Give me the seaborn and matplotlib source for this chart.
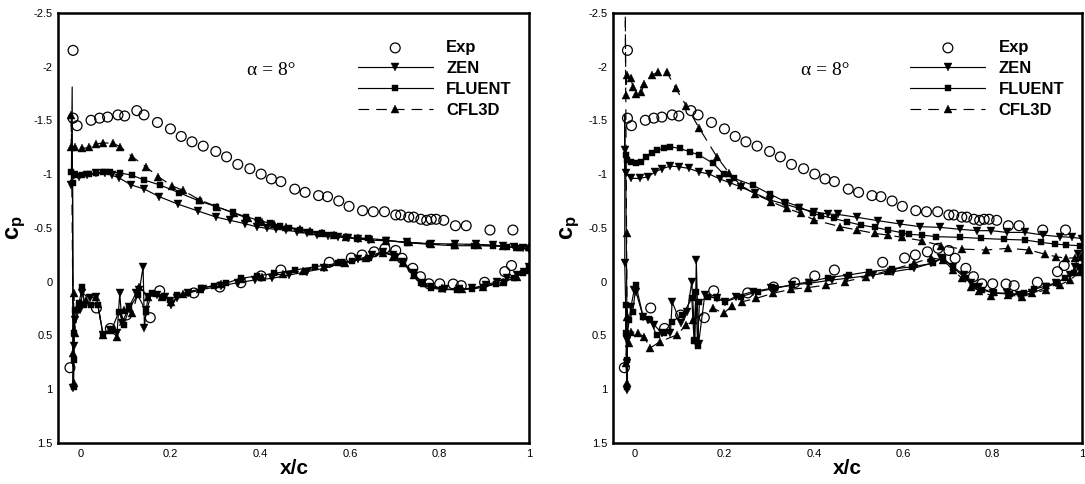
import matplotlib
matplotlib.use("Agg")
import matplotlib.pyplot as plt
import seaborn as sns
from matplotlib.ticker import MultipleLocator, FuncFormatter

# ---------------- data ----------------
# Experiment (same on both panels)
exp_x = [-0.017, -0.017, -0.008, 0.023, 0.042, 0.060, 0.083, 0.098, 0.125, 0.141, 0.171, 0.200, 0.224, 0.248,
         0.273, 0.301, 0.325, 0.350, 0.377, 0.402, 0.425, 0.446, 0.477, 0.500, 0.530, 0.550, 0.575, 0.598,
         0.628, 0.652, 0.677, 0.702, 0.713, 0.731, 0.742, 0.758, 0.771, 0.781, 0.792, 0.809, 0.835, 0.859,
         0.912, 0.963,
         -0.024, 0.035, 0.066, 0.102, 0.155, 0.176, 0.252, 0.310, 0.357, 0.402, 0.446, 0.554, 0.603, 0.627,
         0.654, 0.678, 0.702, 0.716, 0.740, 0.757, 0.776, 0.800, 0.830, 0.848, 0.900, 0.945, 0.960]
exp_cp = [-2.15, -1.52, -1.45, -1.50, -1.52, -1.53, -1.55, -1.54, -1.59, -1.55, -1.48, -1.42, -1.35, -1.30,
          -1.26, -1.21, -1.16, -1.09, -1.05, -1.00, -0.955, -0.93, -0.86, -0.83, -0.80, -0.79, -0.75, -0.70,
          -0.66, -0.65, -0.65, -0.62, -0.62, -0.60, -0.60, -0.58, -0.57, -0.58, -0.58, -0.57, -0.52, -0.52,
          -0.48, -0.48,
          0.80, 0.245, 0.435, 0.31, 0.335, 0.085, 0.105, 0.05, 0.01, -0.053, -0.108, -0.18, -0.22, -0.248,
          -0.277, -0.31, -0.29, -0.217, -0.124, -0.046, 0.02, 0.02, 0.022, 0.037, 0.006, -0.093, -0.15]

# Left panel: ZEN (lower surface TE->LE, then upper LE->TE)
zen_l_x = [1.0, 0.988, 0.973, 0.950, 0.927, 0.904, 0.873, 0.842, 0.812, 0.781, 0.762, 0.742, 0.719, 0.696,
           0.673, 0.650, 0.619, 0.581, 0.542, 0.504, 0.465, 0.427, 0.388, 0.350, 0.312, 0.273, 0.238, 0.215,
           0.202, 0.188, 0.169, 0.150, 0.146, 0.142, 0.139, 0.131, 0.123, 0.108, 0.092, 0.087, 0.081, 0.065,
           0.050, 0.035, 0.021, 0.004, -0.002, -0.013, -0.015, -0.017,
           -0.019,
           -0.021, -0.015, -0.004, 0.015, 0.035, 0.054, 0.069, 0.085, 0.112, 0.142, 0.175, 0.217, 0.262,
           0.302, 0.333, 0.365, 0.392, 0.415, 0.435, 0.458, 0.481, 0.504, 0.527, 0.550, 0.573, 0.596, 0.619,
           0.642, 0.681, 0.727, 0.781, 0.835, 0.881, 0.919, 0.942, 0.965, 0.985, 1.0]
zen_l_cp = [-0.14, -0.09, -0.06, -0.03, 0.0, 0.03, 0.06, 0.07, 0.07, 0.05, 0.015, -0.077, -0.186, -0.248,
            -0.279, -0.248, -0.21, -0.17, -0.124, -0.093, -0.062, -0.031, -0.015, 0.009, 0.04, 0.071, 0.108,
            0.149, 0.217, 0.139, 0.124, 0.139, 0.263, 0.43, -0.14, 0.077, 0.108, 0.232, 0.387, 0.108, 0.48,
            0.449, 0.495, 0.139, 0.155, 0.108, 0.263, 0.356, 0.60, 0.99,
            -1.81,
            -0.90, -0.99, -0.975, -0.99, -1.006, -1.01, -0.99, -0.966, -0.90, -0.86, -0.79, -0.72, -0.656,
            -0.60, -0.57, -0.54, -0.51, -0.495, -0.486, -0.48, -0.464, -0.449, -0.433, -0.424, -0.415, -0.406,
            -0.396, -0.387, -0.38, -0.365, -0.353, -0.35, -0.347, -0.34, -0.33, -0.32, -0.31, -0.30]

# Left panel: FLUENT
flu_l_x = [1.0, 0.985, 0.965, 0.944, 0.925, 0.896, 0.873, 0.838, 0.804, 0.781, 0.759, 0.742, 0.719, 0.700,
           0.673, 0.642, 0.604, 0.573, 0.523, 0.477, 0.431, 0.392, 0.358, 0.323, 0.296, 0.269, 0.238, 0.215,
           0.200, 0.181, 0.158, 0.146, 0.127, 0.108, 0.096, 0.085, 0.069, 0.050, 0.038, 0.023, 0.008, 0.004,
           -0.004, -0.012, -0.015, -0.015, -0.016,
           -0.018, -0.021, -0.012, 0.004, 0.019, 0.035, 0.050, 0.065, 0.088, 0.114, 0.142, 0.177, 0.219,
           0.264, 0.302, 0.339, 0.368, 0.395, 0.422, 0.444, 0.465, 0.488, 0.512, 0.538, 0.565, 0.592, 0.615,
           0.640, 0.681, 0.728, 0.777, 0.831, 0.877, 0.919, 0.950, 0.977, 1.0]
flu_l_cp = [-0.124, -0.077, -0.031, 0.0, 0.022, 0.053, 0.068, 0.077, 0.071, 0.062, 0.015, -0.062, -0.176,
            -0.238, -0.269, -0.217, -0.192, -0.17, -0.139, -0.108, -0.077, -0.053, -0.031, 0.015, 0.037, 0.062,
            0.102, 0.124, 0.17, 0.139, 0.108, 0.279, 0.124, 0.248, 0.402, 0.279, 0.449, 0.495, 0.217, 0.217,
            0.217, 0.046, 0.201, 0.263, 0.48, 0.728, 0.975,
            -0.913, -1.02, -0.99, -0.99, -1.0, -1.01, -1.02, -1.02, -1.01, -0.99, -0.944, -0.898, -0.827,
            -0.75, -0.697, -0.644, -0.604, -0.573, -0.542, -0.517, -0.50, -0.48, -0.464, -0.449, -0.43, -0.418,
            -0.402, -0.402, -0.387, -0.362, -0.347, -0.334, -0.334, -0.331, -0.325, -0.31, -0.31]

# Left panel: CFL3D
cfl_l_x = [1.0, 0.973, 0.942, 0.896, 0.850, 0.804, 0.765, 0.742, 0.719, 0.696, 0.673, 0.635, 0.588, 0.542,
           0.496, 0.450, 0.404, 0.358, 0.312, 0.265, 0.227, 0.202, 0.181, 0.150, 0.131, 0.115, 0.096, 0.081,
           0.065, 0.050, 0.035, 0.012, 0.0, -0.008, -0.012, -0.015, -0.018, -0.016,
           -0.021, -0.021, -0.012, 0.004, 0.019, 0.035, 0.050, 0.073, 0.088, 0.115, 0.145, 0.173, 0.204,
           0.227, 0.265, 0.304, 0.342, 0.373, 0.404, 0.431, 0.458, 0.488, 0.512, 0.538, 0.565, 0.592, 0.619,
           0.646, 0.681, 0.731, 0.781, 0.835, 0.885, 0.942, 0.973, 1.0]
cfl_l_cp = [-0.108, -0.046, 0.0, 0.046, 0.071, 0.062, 0.015, -0.062, -0.17, -0.232, -0.269, -0.217, -0.176,
            -0.139, -0.102, -0.071, -0.046, -0.022, 0.022, 0.065, 0.115, 0.186, 0.139, 0.139, 0.046, 0.294,
            0.263, 0.511, 0.449, 0.495, 0.139, 0.17, 0.201, 0.248, 0.48, 0.108, 0.666, 0.944,
            -1.548, -1.254, -1.248, -1.238, -1.248, -1.279, -1.291, -1.285, -1.254, -1.161, -1.068, -0.975,
            -0.889, -0.851, -0.759, -0.697, -0.635, -0.588, -0.557, -0.533, -0.511, -0.486, -0.471, -0.449,
            -0.433, -0.418, -0.409, -0.396, -0.38, -0.365, -0.35, -0.341, -0.341, -0.331, -0.325, -0.325]

# Right panel: ZEN
zen_r_x = [0.992, 0.985, 0.973, 0.942, 0.919, 0.889, 0.858, 0.831, 0.800, 0.770, 0.751, 0.735, 0.712, 0.685,
           0.662, 0.624, 0.578, 0.532, 0.474, 0.440, 0.390, 0.351, 0.305, 0.263, 0.225, 0.202, 0.183, 0.156,
           0.142, 0.137, 0.134, 0.127, 0.117, 0.102, 0.083, 0.079, 0.060, 0.043, 0.029, 0.018, 0.002, -0.002,
           -0.009, -0.019, -0.019, -0.017,
           -0.023, -0.023, -0.023, -0.021,
           -0.009, 0.010, 0.029, 0.045, 0.060, 0.079, 0.098, 0.120, 0.143, 0.166, 0.190, 0.212, 0.236, 0.269,
           0.302, 0.335, 0.367, 0.401, 0.432, 0.454, 0.497, 0.543, 0.593, 0.638, 0.682, 0.728, 0.766, 0.797,
           0.831, 0.873, 0.913, 0.950, 0.977, 1.0]
zen_r_cp = [-0.26, -0.14, -0.062, 0.015, 0.053, 0.108, 0.124, 0.108, 0.102, 0.053, 0.009, -0.062, -0.139,
            -0.217, -0.17, -0.124, -0.093, -0.062, -0.031, -0.015, 0.015, 0.031, 0.062, 0.093, 0.139, 0.186,
            0.155, 0.124, 0.58, -0.2, 0.55, 0.0, 0.279, 0.387, 0.186, 0.48, 0.48, 0.402, 0.356, 0.325, 0.093,
            0.077, 0.232, 0.542, 0.759, 1.006,
            -0.17, -1.55, -1.22, -1.006,
            -0.96, -0.96, -0.975, -1.02, -1.05, -1.074, -1.068, -1.053, -1.02, -1.0, -0.954, -0.92, -0.882,
            -0.82, -0.759, -0.721, -0.681, -0.65, -0.628, -0.625, -0.598, -0.567, -0.536, -0.511, -0.505,
            -0.486, -0.474, -0.474, -0.458, -0.458, -0.433, -0.418, -0.412, -0.40]

# Right panel: FLUENT
flu_r_x = [0.996, 0.981, 0.962, 0.942, 0.919, 0.893, 0.870, 0.839, 0.804, 0.777, 0.758, 0.739, 0.712, 0.689,
           0.666, 0.620, 0.574, 0.524, 0.478, 0.432, 0.390, 0.351, 0.313, 0.275, 0.236, 0.202, 0.183, 0.163,
           0.144, 0.140, 0.136, 0.132, 0.127, 0.106, 0.083, 0.064, 0.048, 0.033, 0.018, 0.002, -0.005, -0.013,
           -0.021, -0.021, -0.017, -0.017,
           -0.021, -0.017, -0.009, 0.002, 0.014, 0.025, 0.037, 0.048, 0.064, 0.079, 0.100, 0.123, 0.144,
           0.175, 0.198, 0.221, 0.263, 0.302, 0.336, 0.367, 0.398, 0.417, 0.444, 0.474, 0.505, 0.536, 0.566,
           0.597, 0.612, 0.642, 0.674, 0.728, 0.774, 0.826, 0.873, 0.908, 0.939, 0.965, 0.996]
flu_r_cp = [-0.139, -0.077, -0.031, 0.009, 0.04, 0.071, 0.108, 0.115, 0.108, 0.077, 0.04, -0.031, -0.13,
            -0.223, -0.17, -0.139, -0.115, -0.093, -0.062, -0.037, 0.0, 0.031, 0.062, 0.093, 0.139, 0.186,
            0.155, 0.139, 0.186, 0.60, 0.10, 0.55, 0.155, 0.31, 0.372, 0.48, 0.495, 0.356, 0.325, 0.031, 0.279,
            0.356, 0.217, 0.48, 0.728, 0.975,
            -1.176, -1.13, -1.115, -1.105, -1.115, -1.161, -1.192, -1.223, -1.238, -1.254, -1.238, -1.207,
            -1.176, -1.099, -1.0, -0.96, -0.898, -0.814, -0.743, -0.697, -0.635, -0.613, -0.588, -0.557,
            -0.526, -0.505, -0.48, -0.455, -0.44, -0.433, -0.418, -0.412, -0.402, -0.393, -0.387, -0.365,
            -0.35, -0.341, -0.334]

# Right panel: CFL3D
cfl_r_x = [0.996, 0.973, 0.950, 0.919, 0.889, 0.866, 0.835, 0.797, 0.770, 0.751, 0.731, 0.712, 0.689, 0.662,
           0.624, 0.566, 0.517, 0.470, 0.428, 0.386, 0.348, 0.309, 0.271, 0.240, 0.217, 0.198, 0.175, 0.129,
           0.114, 0.094, 0.056, 0.033, 0.021, 0.006, -0.009, -0.013, -0.017, -0.021, -0.017,
           -0.019, -0.022,
           -0.021, -0.019, -0.009, -0.005, 0.002, 0.014, 0.021, 0.038, 0.052, 0.071, 0.091, 0.115, 0.144,
           0.183, 0.210, 0.236, 0.269, 0.305, 0.340, 0.371, 0.401, 0.459, 0.497, 0.536, 0.566, 0.597, 0.642,
           0.685, 0.731, 0.785, 0.835, 0.881, 0.916, 0.942, 0.965, 0.985, 0.998]
cfl_r_cp = [-0.093, -0.015, 0.031, 0.077, 0.108, 0.139, 0.124, 0.13, 0.084, 0.046, -0.031, -0.108, -0.201,
            -0.223, -0.17, -0.102, -0.046, 0.0, 0.031, 0.056, 0.071, 0.108, 0.155, 0.186, 0.226, 0.294, 0.248,
            0.356, 0.402, 0.495, 0.557, 0.619, 0.511, 0.48, 0.464, 0.573, 0.325, 0.759, 0.944,
            -0.449, -2.70,
            -1.734, -1.92, -1.889, -1.811, -1.749, -1.765, -1.842, -1.92, -1.95, -1.95, -1.796, -1.632,
            -1.424, -1.161, -1.012, -0.898, -0.814, -0.743, -0.681, -0.635, -0.573, -0.511, -0.48, -0.449,
            -0.433, -0.412, -0.381, -0.334, -0.303, -0.294, -0.31, -0.294, -0.257, -0.232, -0.217, -0.223,
            -0.232]

y_ticks = [-2.5, -2, -1.5, -1, -0.5, 0, 0.5, 1, 1.5]
x_ticks = [0, 0.2, 0.4, 0.6, 0.8, 1]
alpha_label = "α = 8°"

# ---------------- style ----------------
sns.set_theme(style="white")
plt.rcParams["font.family"] = ["Liberation Sans", "DejaVu Sans"]
plt.rcParams["axes.unicode_minus"] = False
plt.rcParams["mathtext.fontset"] = "custom"
plt.rcParams["mathtext.rm"] = "Liberation Sans"
plt.rcParams["mathtext.bf"] = "Liberation Sans:bold"
plt.rcParams["mathtext.it"] = "Liberation Sans:italic"
for k in ["text.color", "axes.labelcolor", "xtick.color", "ytick.color", "axes.edgecolor"]:
    plt.rcParams[k] = "black"

fig = plt.figure(figsize=(10.85, 4.84), dpi=100)
ax1 = fig.add_axes([0.0537, 0.0847, 0.4343, 0.889])
ax2 = fig.add_axes([0.5647, 0.0847, 0.4326, 0.889])

fmt = FuncFormatter(lambda v, p: f"{round(v, 3) + 0.0:g}")


def marks_without_peak(cp):
    # the leading-edge suction spike is drawn as a bare line in the source figure
    peak = cp.index(min(cp))
    return [i for i in range(len(cp)) if i != peak]


def draw(ax, zx, zc, fx, fc, cx, cc, zen_every, cfl_every):
    sns.scatterplot(x=exp_x, y=exp_cp, ax=ax, marker="o", s=50, facecolor="none",
                    edgecolor="black", linewidth=0.9, label="Exp", zorder=3)
    sns.lineplot(x=zx, y=zc, ax=ax, sort=False, estimator=None, color="black", lw=0.85,
                 marker="v", markersize=6, markeredgecolor="black", markeredgewidth=0.3,
                 markevery=zen_every, label="ZEN", zorder=4)
    sns.lineplot(x=fx, y=fc, ax=ax, sort=False, estimator=None, color="black", lw=0.85,
                 marker="s", markersize=5, markeredgecolor="black", markeredgewidth=0.3,
                 label="FLUENT", zorder=4)
    sns.lineplot(x=cx, y=cc, ax=ax, sort=False, estimator=None, color="black", lw=0.85,
                 linestyle=(0, (9, 6)), marker="^", markersize=6, markeredgecolor="black",
                 markeredgewidth=0.3, markevery=cfl_every, label="CFL3D", zorder=4)
    ax.set_xlim(-0.05, 1.0)
    ax.set_ylim(1.5, -2.5)
    ax.set_xticks(x_ticks)
    ax.set_yticks(y_ticks)
    ax.xaxis.set_minor_locator(MultipleLocator(0.05))
    ax.yaxis.set_minor_locator(MultipleLocator(0.1))
    ax.xaxis.set_major_formatter(fmt)
    ax.yaxis.set_major_formatter(fmt)
    ax.tick_params(which="major", direction="in", length=8, width=1.5, labelsize=8,
                   top=False, right=False, pad=4)
    ax.tick_params(which="minor", direction="in", length=4.5, width=1.0, top=False, right=False)
    for s in ax.spines.values():
        s.set_linewidth(1.8)
        s.set_color("black")
    ax.set_xlabel("x/c", fontsize=15, fontweight="bold", labelpad=0)
    ax.set_ylabel(r"$\mathbf{c_p}$", fontsize=17, labelpad=4)
    ax.text(0.425, -1.96, alpha_label, family=["Liberation Serif", "DejaVu Serif"], fontsize=14,
            ha="center", va="center")
    h, l = ax.get_legend_handles_labels()
    ax.legend(h, l, loc="upper right", bbox_to_anchor=(0.962, 0.936), frameon=False,
              prop={"weight": "bold", "size": 12}, handlelength=4.5, handletextpad=0.8,
              labelspacing=0.36, borderpad=0, borderaxespad=0, scatterpoints=1)


draw(ax1, zen_l_x, zen_l_cp, flu_l_x, flu_l_cp, cfl_l_x, cfl_l_cp,
     marks_without_peak(zen_l_cp), None)
draw(ax2, zen_r_x, zen_r_cp, flu_r_x, flu_r_cp, cfl_r_x, cfl_r_cp,
     marks_without_peak(zen_r_cp), marks_without_peak(cfl_r_cp))

fig.savefig("out.png", dpi=100)
